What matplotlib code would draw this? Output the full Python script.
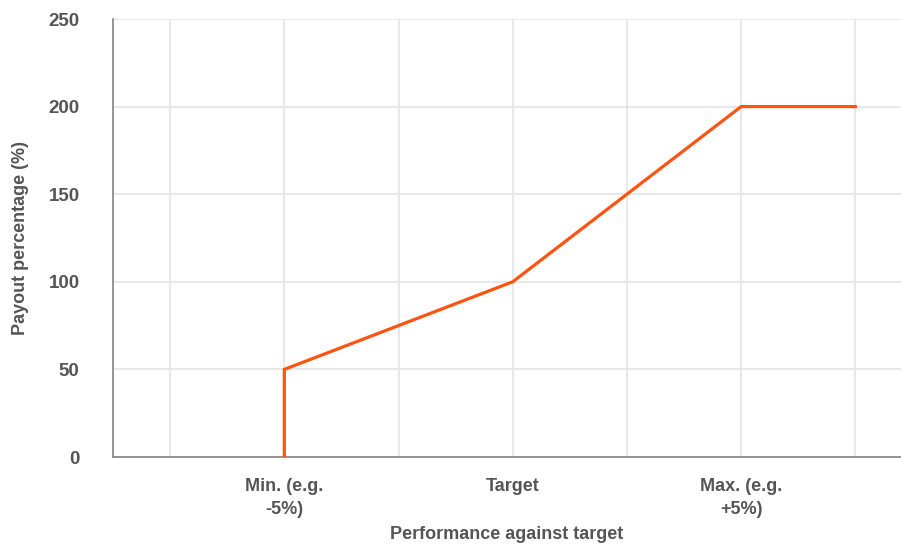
import numpy as np
import matplotlib.pyplot as plt

# Colores
color_line = '#FF5310'
color_grid = '#E6E6E6'
color_axis = '#8C8C8C'
color_text = '#555555'

# Datos
categories = ['', 'Min. (e.g.\n-5%)', '', 'Target', '', 'Max. (e.g.\n+5%)', '']
payout_x = [1, 1, 3, 5, 6]
payout_y = [0, 50, 100, 200, 200]
y_ticks = [0, 50, 100, 150, 200, 250]

plt.rcParams['font.family'] = ['Liberation Sans', 'DejaVu Sans']

fig = plt.figure(figsize=(9.01, 5.46), dpi=100)
ax = fig.add_axes([113 / 901, 89 / 546, 1 - 113 / 901, (457 - 19) / 546])

ax.plot(payout_x, payout_y, color=color_line, linewidth=2.3, solid_joinstyle='miter', zorder=3)

ax.set_xlim(-0.5, 6.4)
ax.set_ylim(0, 250)
ax.set_xticks(np.arange(len(categories)))
ax.set_xticklabels(categories, fontsize=13, fontweight='bold', color=color_text, linespacing=1.45)
ax.set_yticks(y_ticks)
ax.set_yticklabels([str(v) for v in y_ticks], fontsize=13.5, fontweight='bold', color=color_text)
ax.tick_params(axis='both', length=0)
ax.tick_params(axis='y', pad=24)
ax.tick_params(axis='x', pad=15)

ax.grid(True, color=color_grid, linewidth=1.3)
ax.set_axisbelow(True)
for side in ['top', 'right']:
    ax.spines[side].set_visible(False)
for side in ['left', 'bottom']:
    ax.spines[side].set_color(color_axis)
    ax.spines[side].set_linewidth(1.3)

ax.set_xlabel('Performance against target', fontsize=13, fontweight='bold', color=color_text, labelpad=6)
ax.set_ylabel('Payout percentage (%)', fontsize=13, fontweight='bold', color=color_text, labelpad=14)

fig.savefig('out.png', dpi=100)
